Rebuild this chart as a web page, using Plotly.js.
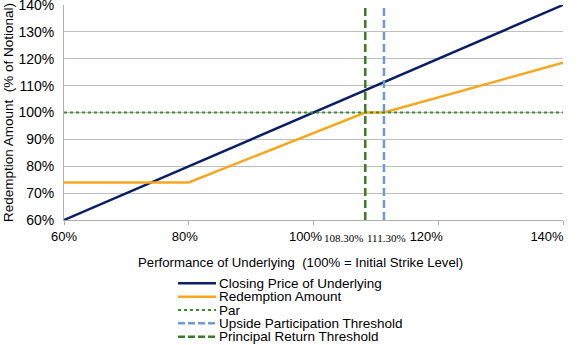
<!DOCTYPE html>
<html>
<head>
<meta charset="utf-8">
<script src="https://cdn.plot.ly/plotly-3.0.1.min.js"></script>
<style>html,body{margin:0;padding:0;background:#fff;}#chart{width:580px;height:345px;}</style>
</head>
<body>
<div id="chart"></div>
<script>
// ---- data ----
const closingX = [60, 140];
const closingY = [60, 140];
const redemptionX = [60, 80, 108.3, 111.3, 140];
const redemptionY = [74, 74, 100, 100, 118.5];
const parX = [60, 140];
const parY = [100, 100];
const upsideThreshold = 111.3;
const principalThreshold = 108.3;
const yRange = [60, 140];
const seriesNames = ['Closing Price of Underlying', 'Redemption Amount', 'Par', 'Upside Participation Threshold', 'Principal Return Threshold'];
const xTickVals = [60, 80, 100, 120, 140];
const xTickText = ['60%', '80%', '100%', '120%', '140%'];
const yTickVals = [60, 70, 80, 90, 100, 110, 120, 130, 140];
const yTickText = ['60%', '70%', '80%', '90%', '100%', '110%', '120%', '130%', '140%'];
const thresholdVals = [principalThreshold, upsideThreshold];
const thresholdLabels = ['108.30%', '111.30%'];
const xTitle = 'Performance of Underlying  (100% = Initial Strike Level)';
const yTitle = 'Redemption Amount  (% of Notional)';

// ---- styles ----
const navy = '#0B1F62';
const orange = '#F5A81F';
const parGreen = '#3A8A2E';
const blueDash = '#6C9BD0';
const greenDash = '#3B7A27';
const FONT = 'Arial, "Liberation Sans", sans-serif';
const SERIF = '"Liberation Serif", "Times New Roman", serif';

const traces = [
  {x: closingX, y: closingY, mode: 'lines', name: seriesNames[0], line: {color: navy, width: 2.5}},
  {x: redemptionX, y: redemptionY, mode: 'lines', name: seriesNames[1], line: {color: orange, width: 2.5}},
  {x: parX, y: parY, mode: 'lines', name: seriesNames[2], line: {color: parGreen, width: 2, dash: 'dot'}},
  {x: [upsideThreshold, upsideThreshold], y: yRange, mode: 'lines', name: seriesNames[3], line: {color: blueDash, width: 2.5, dash: '8px,4px'}},
  {x: [principalThreshold, principalThreshold], y: yRange, mode: 'lines', name: seriesNames[4], line: {color: greenDash, width: 2.5, dash: '8px,4px'}},
  // empty trace that only makes the label axis (x2) exist; draws nothing
  {x: [], y: [], xaxis: 'x2', yaxis: 'y', mode: 'lines', showlegend: false, hoverinfo: 'skip'}
];

// manual legend (tight rows like the reference)
const L = 64, R = 17, T = 5, B = 125;
const W = 580 - L - R, H = 345 - T - B;
const px2x = p => (p - L) / W;
const py2y = p => (345 - B - p) / H;
const legendRows = [283.3, 296.7, 310, 323.3, 336.7];
const legendStyles = [
  {color: navy, width: 2.5, dash: 'solid'},
  {color: orange, width: 2.5, dash: 'solid'},
  {color: parGreen, width: 2, dash: 'dot'},
  {color: blueDash, width: 2.5, dash: '7px,3px'},
  {color: greenDash, width: 2.5, dash: '7px,3px'}
];
const shapes = [];
const annotations = [];
seriesNames.forEach((n, i) => {
  shapes.push({type: 'line', xref: 'paper', yref: 'paper',
    x0: px2x(178), x1: px2x(216), y0: py2y(legendRows[i]), y1: py2y(legendRows[i]),
    line: legendStyles[i]});
  annotations.push({xref: 'paper', yref: 'paper', x: px2x(217), y: py2y(legendRows[i]),
    xanchor: 'left', yanchor: 'middle', text: n, showarrow: false,
    font: {family: FONT, size: 13.5, color: '#000'}});
});
// threshold labels on the x axis
annotations.push({xref: 'x', yref: 'paper', x: thresholdVals[0], y: 0, yshift: -18,
  xanchor: 'right', yanchor: 'middle', text: thresholdLabels[0], showarrow: false,
  font: {family: SERIF, size: 11, color: '#000'}});
annotations.push({xref: 'x', yref: 'paper', x: thresholdVals[1], y: 0, yshift: -18, xshift: 3,
  xanchor: 'center', yanchor: 'middle', text: thresholdLabels[1], showarrow: false,
  font: {family: SERIF, size: 11, color: '#000'}});
// x axis title (sits slightly left of the plot centre in the reference)
annotations.push({xref: 'paper', yref: 'paper', x: px2x(300), y: py2y(262.5),
  xanchor: 'center', yanchor: 'middle', text: xTitle, showarrow: false,
  font: {family: FONT, size: 13.2, color: '#000'}});

const layout = {
  width: 580, height: 345,
  margin: {l: L, r: R, t: T, b: B, pad: 0},
  paper_bgcolor: '#fff', plot_bgcolor: '#fff',
  showlegend: false,
  font: {family: FONT, color: '#000'},
  xaxis: {
    range: [60, 140], tickvals: xTickVals, showticklabels: false,
    showgrid: false, zeroline: false,
    showline: true, linecolor: '#B0B0B0', linewidth: 1,
    ticks: 'outside', ticklen: 4, tickcolor: '#B0B0B0', tickwidth: 1,
    automargin: false, fixedrange: true
  },
  // label-only axis: the reference's tick labels sit slightly compressed toward the left
  xaxis2: {
    overlaying: 'x', anchor: 'y', side: 'bottom',
    range: [59.99, 142.65], tickvals: xTickVals, ticktext: xTickText, tickangle: 0,
    showgrid: false, zeroline: false, showline: false,
    ticks: 'outside', ticklen: 4, tickcolor: 'rgba(0,0,0,0)',
    tickfont: {family: FONT, size: 13, color: '#000'},
    automargin: false, fixedrange: true
  },
  yaxis: {
    range: yRange, tickvals: yTickVals, ticktext: yTickText,
    showgrid: true, gridcolor: '#BEBEBE', gridwidth: 1, zeroline: false,
    showline: true, linecolor: '#B0B0B0', linewidth: 1,
    ticks: '', ticklabelstandoff: 6, ticklabeloverflow: 'allow',
    tickfont: {family: FONT, size: 14, color: '#000'},
    title: {text: yTitle, font: {family: FONT, size: 13.5, color: '#000'}},
    automargin: false, fixedrange: true
  },
  shapes: shapes,
  annotations: annotations
};

Plotly.newPlot('chart', traces, layout, {staticPlot: true, displayModeBar: false});
</script>
</body>
</html>
